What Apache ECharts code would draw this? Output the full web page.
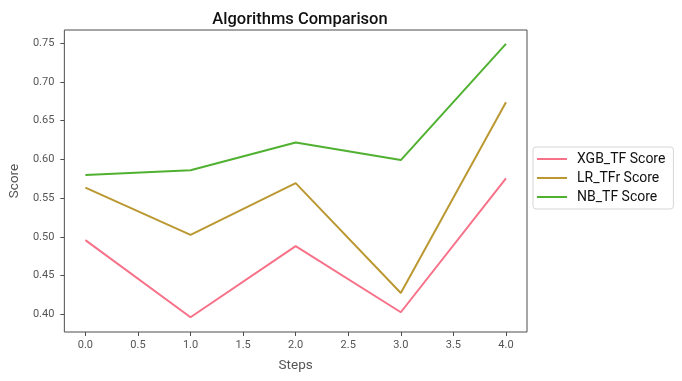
<!DOCTYPE html>
<html><head><meta charset="utf-8">
<script src="https://cdn.jsdelivr.net/npm/echarts@6/dist/echarts.min.js"></script>
<style>html,body{margin:0;padding:0;background:#fff}#c{width:682px;height:381px}</style>
</head><body><div id="c"></div>
<script>
const steps = [0, 1, 2, 3, 4];
const xgb = [0.4956, 0.396, 0.4878, 0.4025, 0.5753];
const lr = [0.5634, 0.5024, 0.5693, 0.4273, 0.6736];
const nb = [0.5796, 0.586, 0.6217, 0.599, 0.749];
const names = ['XGB_TF Score', 'LR_TFr Score', 'NB_TF Score'];
const colors = ['#f77189', '#bb9832', '#50b131'];
const xTicks = [0, 0.5, 1, 1.5, 2, 2.5, 3, 3.5, 4];
const yTicks = [0.40, 0.45, 0.50, 0.55, 0.60, 0.65, 0.70, 0.75];

const font = 'Roboto';
const chart = echarts.init(document.getElementById('c'));
const mk = (arr, i) => ({
  name: names[i], type: 'line', showSymbol: false, symbol: 'none',
  data: steps.map((s, k) => [s, arr[k]]),
  lineStyle: { color: colors[i], width: 2 }, itemStyle: { color: colors[i] },
  animation: false
});
chart.setOption({
  animation: false,
  title: { text: 'Algorithms Comparison', left: 295, top: 6, textAlign: 'center',
    textStyle: { fontFamily: font, fontSize: 16.5, fontWeight: 500, color: '#111' } },
  grid: { left: 63, right: 155, top: 30, bottom: 49, show: true, borderColor: '#4d4d4d', borderWidth: 1, backgroundColor: 'transparent' },
  legend: {
    orient: 'vertical', left: 533, top: 147, data: names,
    icon: 'rect', itemWidth: 30, itemHeight: 2, itemGap: 5,
    borderColor: '#d6d6d6', borderWidth: 1, borderRadius: 3, padding: [5, 8, 5, 4],
    textStyle: { fontFamily: font, fontSize: 14, color: '#111', padding: [0, 0, 0, 5] }
  },
  xAxis: {
    type: 'value', min: -0.2, max: 4.2, name: 'Steps', nameLocation: 'middle', nameGap: 27,
    nameTextStyle: { fontFamily: font, fontSize: 13.5, color: '#555' },
    axisLine: { show: false, onZero: false }, splitLine: { show: false },
    axisTick: { show: true, length: 4, lineStyle: { color: '#4d4d4d' }, customValues: xTicks },
    axisLabel: { fontFamily: font, fontSize: 11, color: '#555', margin: 8, customValues: xTicks,
      formatter: v => v.toFixed(1) }
  },
  yAxis: {
    type: 'value', min: 0.377, max: 0.767, name: 'Score', nameLocation: 'middle', nameGap: 41,
    nameTextStyle: { fontFamily: font, fontSize: 13.5, color: '#555' },
    axisLine: { show: false, onZero: false }, splitLine: { show: false },
    axisTick: { show: true, length: 4, lineStyle: { color: '#4d4d4d' }, customValues: yTicks },
    axisLabel: { fontFamily: font, fontSize: 11, color: '#555', margin: 10, customValues: yTicks,
      formatter: v => v.toFixed(2) }
  },
  series: [mk(xgb, 0), mk(lr, 1), mk(nb, 2)]
});
</script></body></html>
